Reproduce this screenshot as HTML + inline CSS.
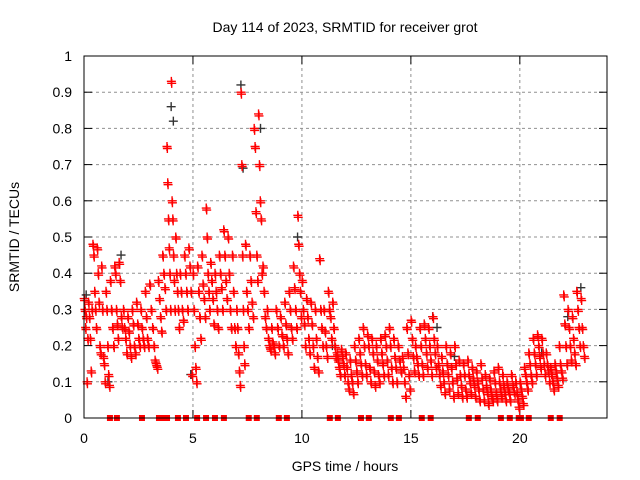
<!DOCTYPE html>
<html><head><meta charset="utf-8"><style>
body{margin:0;background:#fff}
svg{display:block;font-family:"Liberation Sans",sans-serif}
</style></head><body>
<svg id="chart" width="640" height="480" viewBox="0 0 640 480" xmlns="http://www.w3.org/2000/svg">
<text x="345" y="32" font-size="14" text-anchor="middle">Day 114 of 2023, SRMTID for receiver grot</text>
<text transform="translate(19,237) rotate(-90)" font-size="14" text-anchor="middle">SRMTID / TECUs</text>
<text x="345" y="471" font-size="14" text-anchor="middle">GPS time / hours</text>
<g id="grid"></g>
<g id="ticks"></g>
<g id="grey"></g>
<g id="red"></g>
<g id="zeros"></g>
<rect x="84" y="56" width="523" height="362" fill="none" stroke="#000" stroke-width="1"/>
</svg>
<script>
const xTicks=[0,5,10,15,20];
const yTicks=[0,0.1,0.2,0.3,0.4,0.5,0.6,0.7,0.8,0.9,1];
const yTickLabels=["0","0.1","0.2","0.3","0.4","0.5","0.6","0.7","0.8","0.9","1"];
const binStart=0, binWidth=0.2;
const redBins=[
[0.33,0.3,0.25,0.28,0.1,0.22],[0.32,0.28,0.22,0.13,0.3],[0.48,0.45,0.35,0.3,0.25],[0.47,0.4,0.32,0.2,0.18],[0.42,0.3,0.17,0.15,0.1],
[0.35,0.3,0.2,0.12,0.09],[0.38,0.3,0.25,0.2],[0.42,0.4,0.3,0.26,0.22],[0.43,0.38,0.28,0.25],[0.3,0.25,0.22,0.18],
[0.28,0.24,0.2,0.17],[0.3,0.26,0.2,0.18],[0.32,0.26,0.22,0.2],[0.3,0.25,0.22,0.2],[0.35,0.28,0.22,0.2],
[0.37,0.3,0.25],[0.2,0.16,0.15,0.14],[0.38,0.33,0.28,0.24],[0.45,0.4,0.36,0.3],[0.75,0.65,0.55,0.47,0.4,0.3],
[0.93,0.6,0.55,0.45,0.38,0.3],[0.5,0.4,0.35,0.3,0.25],[0.4,0.35,0.3,0.27],[0.45,0.4,0.35,0.3],[0.47,0.42,0.35,0.12],
[0.4,0.3,0.2,0.14,0.1],[0.42,0.35,0.28,0.22],[0.45,0.37,0.33,0.28],[0.58,0.5,0.4,0.35,0.3],[0.43,0.38,0.33,0.26],
[0.4,0.35,0.3,0.25],[0.45,0.4,0.36,0.3],[0.52,0.45,0.38,0.33],[0.5,0.4,0.3,0.25],[0.45,0.35,0.25,0.2],
[0.3,0.25,0.18,0.13,0.09],[0.9,0.7,0.45,0.3,0.2,0.15],[0.48,0.35,0.3,0.25],[0.45,0.38,0.32,0.28],[0.8,0.75,0.57,0.45,0.38],
[0.84,0.7,0.6,0.55,0.4],[0.42,0.35,0.28,0.25],[0.3,0.22,0.2,0.19],[0.25,0.21,0.2,0.18],[0.3,0.25,0.2],
[0.28,0.23,0.2],[0.32,0.26,0.22,0.18],[0.35,0.3,0.25,0.22],[0.42,0.36,0.3,0.25],[0.56,0.48,0.4,0.35,0.28],
[0.38,0.3,0.26,0.2],[0.33,0.28,0.22,0.18],[0.32,0.26,0.2,0.14],[0.3,0.22,0.17,0.13],[0.44,0.3,0.25,0.2],
[0.3,0.24,0.2,0.17],[0.35,0.3,0.28,0.22],[0.32,0.25,0.2,0.17],[0.18,0.16,0.14,0.12],[0.19,0.17,0.15,0.12],
[0.18,0.14,0.1,0.08],[0.16,0.12,0.1,0.07],[0.2,0.16,0.13,0.1],[0.22,0.18,0.15,0.12],[0.25,0.2,0.15,0.12],
[0.23,0.2,0.14,0.1],[0.22,0.18,0.13,0.09],[0.2,0.16,0.12,0.1],[0.22,0.18,0.15,0.12],[0.23,0.2,0.16,0.12],
[0.25,0.2,0.14,0.1],[0.22,0.17,0.14,0.1],[0.2,0.16,0.13],[0.17,0.14,0.1,0.06],[0.25,0.18,0.12,0.08],
[0.27,0.22,0.17,0.13],[0.2,0.17,0.15,0.12],[0.25,0.2,0.15,0.12],[0.26,0.22,0.18,0.14],[0.25,0.2,0.16,0.12],
[0.28,0.22,0.18,0.14],[0.2,0.15,0.12,0.09],[0.17,0.13,0.1,0.07],[0.2,0.15,0.12,0.08],[0.18,0.14,0.1,0.06],
[0.2,0.15,0.11,0.07],[0.16,0.12,0.09,0.06],[0.15,0.12,0.08,0.06],[0.16,0.12,0.1,0.07],[0.14,0.11,0.09,0.06],
[0.13,0.1,0.08,0.05],[0.15,0.11,0.08,0.05],[0.12,0.09,0.07,0.04],[0.11,0.08,0.06,0.05],[0.13,0.1,0.07,0.05],
[0.14,0.1,0.08,0.06],[0.12,0.09,0.07,0.05],[0.1,0.08,0.07,0.05],[0.12,0.09,0.07],[0.1,0.07,0.05,0.03],
[0.1,0.08,0.06,0.04],[0.14,0.12,0.1,0.08],[0.18,0.15,0.12,0.1],[0.22,0.18,0.15,0.12],[0.23,0.2,0.17,0.14],
[0.22,0.18,0.15,0.12],[0.18,0.15,0.13,0.1],[0.14,0.12,0.1,0.08],[0.15,0.13,0.11,0.09],[0.2,0.15,0.13,0.11],
[0.34,0.26,0.2,0.15],[0.3,0.25,0.2,0.16],[0.28,0.22,0.18,0.15],[0.35,0.3,0.25,0.2],[0.33,0.25,0.2,0.17]];
const greyTimes=[0.1,1.1,1.7,4.0,4.1,4.9,7.2,7.3,8.1,9.8,11.4,16.0,16.2,17.0,21.0,22.2,22.8];
const greyValues=[0.34,0.1,0.45,0.86,0.82,0.12,0.92,0.69,0.8,0.5,0.2,0.28,0.25,0.17,0.18,0.28,0.36];
const zeroTimes=[1.19,1.51,2.66,3.44,3.58,3.81,4.31,4.68,5.19,5.6,6.01,6.42,7.56,7.93,8.94,9.31,11.28,11.65,12.71,13.07,14.08,14.45,15.5,15.91,17.66,18.07,19.13,19.54,19.95,20.05,20.41,21.42,21.83];
const X=h=>84+h*(523/24), Y=v=>418-v*362;
const NS="http://www.w3.org/2000/svg";
function mk(tag,attrs,parent){const e=document.createElementNS(NS,tag);for(const k in attrs)e.setAttribute(k,attrs[k]);parent.appendChild(e);return e;}
const grid=document.getElementById('grid'),ticks=document.getElementById('ticks');
xTicks.forEach(t=>{
  if(t>0){const l=mk('line',{x1:X(t),x2:X(t),y1:56,y2:418,stroke:'#909090','stroke-dasharray':'3,3'},grid);
  
  }
  mk('line',{x1:X(t),x2:X(t),y1:418,y2:410,stroke:'#000'},ticks);
  mk('line',{x1:X(t),x2:X(t),y1:56,y2:64,stroke:'#000'},ticks);
  const tx=mk('text',{x:X(t),y:443,'font-size':14,'text-anchor':'middle'},ticks);tx.textContent=t;
  
  
});
yTicks.forEach((t,i)=>{
  if(t>0&&t<1){const l=mk('line',{x1:84,x2:607,y1:Y(t),y2:Y(t),stroke:'#909090','stroke-dasharray':'3,3'},grid);
  
  }
  mk('line',{x1:84,x2:92,y1:Y(t),y2:Y(t),stroke:'#000'},ticks);
  mk('line',{x1:607,x2:599,y1:Y(t),y2:Y(t),stroke:'#000'},ticks);
  const tx=mk('text',{x:72,y:Y(t)+5,'font-size':14,'text-anchor':'end'},ticks);tx.textContent=yTickLabels[i];
  
  
});
function plus(x,y,col,parent){return mk('path',{d:`M${x-4.5},${y}h9M${x},${y-4.5}v9`,stroke:col,'stroke-width':1.4,fill:'none'},parent);}
const red=document.getElementById('red'),grey=document.getElementById('grey');
greyTimes.forEach((t,i)=>{const p=plus(X(t),Y(greyValues[i]),'#333',grey);
  
  });
redBins.forEach((vals,b)=>{vals.forEach((v,i)=>{
  const n=vals.length;
  [0.25,0.75].forEach((f,k)=>{
    const t=binStart+b*binWidth+((i+f)/n)*binWidth;
    const p=plus(X(t),Y(v)+(k?2:0),'#ff0000',red);
    
    
  });
});});
const zeros=document.getElementById('zeros');
zeroTimes.forEach(t=>{const r=mk('rect',{x:X(t)-3,y:415,width:6,height:6,fill:'#ff0000'},zeros);
  
  });
</script>
</body></html>
